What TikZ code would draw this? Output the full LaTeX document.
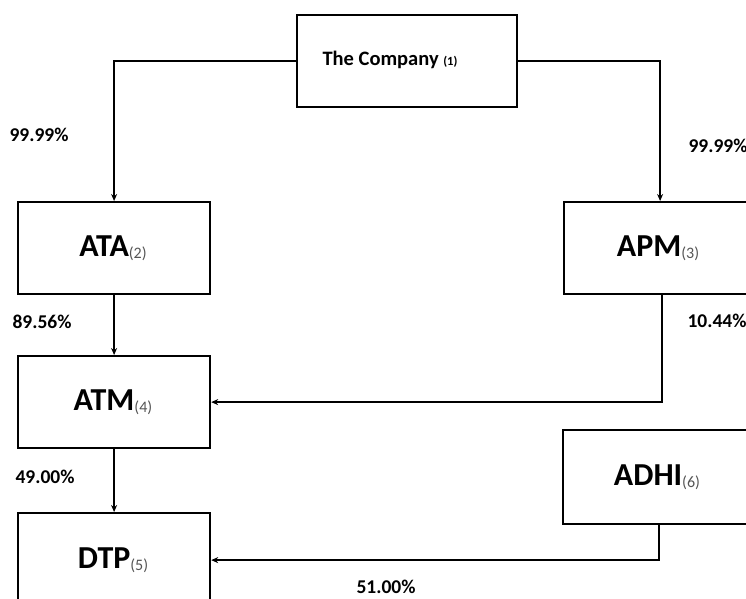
\documentclass[tikz,border=0pt]{standalone}
\usepackage{fontspec}
\setmainfont{Carlito}
\usetikzlibrary{arrows.meta}
\definecolor{subgrey}{HTML}{555555}
\tikzset{
  ent/.style={draw=black, line width=2.2pt, fill=white, minimum width=192pt, minimum height=92pt, inner sep=0pt, anchor=north west},
  arr/.style={line width=1.6pt, -{Stealth[length=7pt,width=6pt]}},
  pct/.style={font=\bfseries\fontsize{19.5}{22}\selectfont, inner sep=0pt},
  big/.style={font=\bfseries\fontsize{32}{36}\selectfont},
}
\newcommand{\subn}[1]{\raisebox{-2.5pt}{\textmd{\fontsize{16}{18}\selectfont\color{subgrey}#1}}}
\begin{document}
\begin{tikzpicture}[x=1pt,y=-1pt]
\useasboundingbox (0,0) rectangle (746,598);
\clip (0,0) rectangle (746,598);
\node[ent, minimum width=220pt, minimum height=92pt] (co) at (296,14) {};
\node[font=\bfseries\fontsize{20.5}{24}\selectfont] (colbl) at (390,60) {The Company {\fontsize{12.5}{14}\selectfont(1)}};
\node[ent] (ata) at (17,201) {};
\node[big] (atal) at (113,248) {ATA\subn{(2)}};
\node[ent] (apm) at (563,201) {};
\node[big] (apml) at (658,248) {APM\subn{(3)}};
\node[ent] (atm) at (17,355) {};
\node[big] (atml) at (113,402) {ATM\subn{(4)}};
\node[ent, minimum height=94pt] (adhi) at (562,429) {};
\node[big] (adhil) at (657,477) {ADHI\subn{(6)}};
\node[ent, minimum height=94pt] (dtp) at (17,512) {};
\node[big] (dtpl) at (113,560) {DTP\subn{(5)}};
\draw[arr] (co.west) -| (ata.north);
\draw[arr] (co.east) -| (apm.north);
\draw[arr] (ata.south) -- (atm.north);
\draw[arr] (atm.south) -- (dtp.north);
\draw[arr] ([xshift=2pt]apm.south) |- (atm.east);
\draw[arr] (adhi.south) |- (dtp.east);
\node[pct] (p1) at (39,135) {99.99\%};
\node[pct] (p2) at (718,146) {99.99\%};
\node[pct] (p3) at (42,322) {89.56\%};
\node[pct] (p4) at (717,321) {10.44\%};
\node[pct] (p5) at (45,477) {49.00\%};
\node[pct] (p6) at (386,587) {51.00\%};
\end{tikzpicture}
\end{document}
